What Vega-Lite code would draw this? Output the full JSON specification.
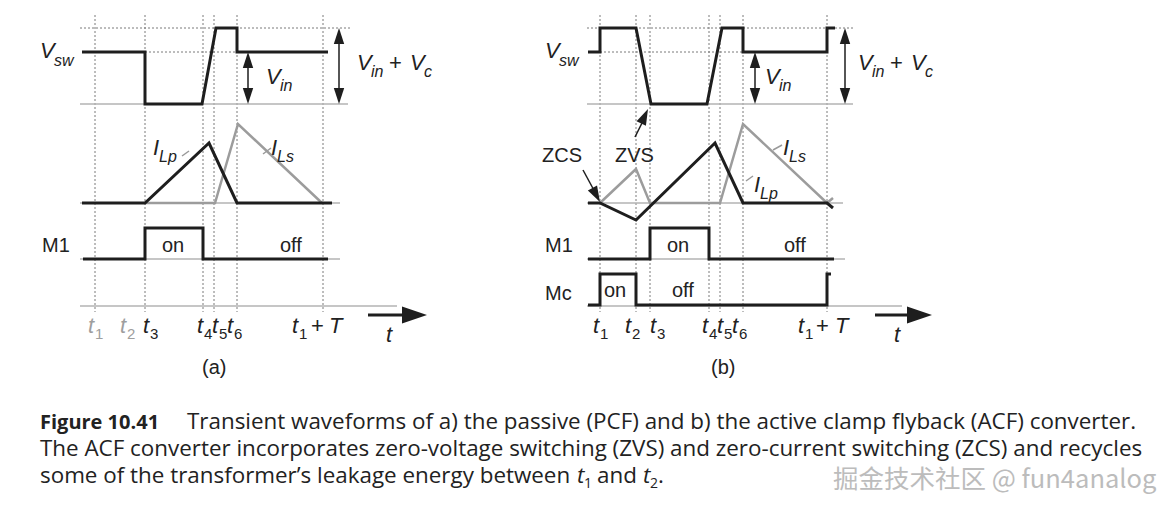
{
  "$schema": "https://vega.github.io/schema/vega-lite/v6.json",
  "width": 1170,
  "height": 507,
  "padding": 0,
  "autosize": {"type": "none"},
  "background": "white",
  "config": {"view": {"stroke": null}},
  "datasets": {
    "segs": [
      {"k": "dot", "x": 95, "y": 15, "x2": 95, "y2": 312},
      {"k": "dot", "x": 145, "y": 15, "x2": 145, "y2": 312},
      {"k": "dot", "x": 203, "y": 15, "x2": 203, "y2": 312},
      {"k": "dot", "x": 214, "y": 15, "x2": 214, "y2": 312},
      {"k": "dot", "x": 237, "y": 15, "x2": 237, "y2": 312},
      {"k": "dot", "x": 323, "y": 15, "x2": 323, "y2": 312},
      {"k": "dot", "x": 600, "y": 15, "x2": 600, "y2": 312},
      {"k": "dot", "x": 636, "y": 15, "x2": 636, "y2": 312},
      {"k": "dot", "x": 650, "y": 15, "x2": 650, "y2": 312},
      {"k": "dot", "x": 709, "y": 15, "x2": 709, "y2": 312},
      {"k": "dot", "x": 720, "y": 15, "x2": 720, "y2": 312},
      {"k": "dot", "x": 743, "y": 15, "x2": 743, "y2": 312},
      {"k": "dot", "x": 827, "y": 15, "x2": 827, "y2": 312},
      {"k": "dot", "x": 80, "y": 28, "x2": 350, "y2": 28},
      {"k": "dot", "x": 145, "y": 52, "x2": 238, "y2": 52},
      {"k": "dot", "x": 587, "y": 28, "x2": 853, "y2": 28},
      {"k": "dot", "x": 600, "y": 52, "x2": 743, "y2": 52},
      {"k": "gray", "x": 80, "y": 104, "x2": 348, "y2": 104},
      {"k": "gray", "x": 80, "y": 203, "x2": 340, "y2": 203},
      {"k": "gray", "x": 80, "y": 259, "x2": 340, "y2": 259},
      {"k": "gray", "x": 80, "y": 306, "x2": 397, "y2": 306},
      {"k": "gray", "x": 587, "y": 104, "x2": 853, "y2": 104},
      {"k": "gray", "x": 587, "y": 203, "x2": 843, "y2": 203},
      {"k": "gray", "x": 587, "y": 259, "x2": 845, "y2": 259},
      {"k": "gray", "x": 587, "y": 306, "x2": 902, "y2": 306},
      {"k": "blk", "x": 248, "y": 58, "x2": 248, "y2": 98},
      {"k": "blk", "x": 339, "y": 34, "x2": 339, "y2": 98},
      {"k": "blk", "x": 755, "y": 58, "x2": 755, "y2": 98},
      {"k": "blk", "x": 845, "y": 34, "x2": 845, "y2": 98},
      {"k": "blk", "x": 635, "y": 137, "x2": 645, "y2": 117},
      {"k": "blk", "x": 583, "y": 170, "x2": 596, "y2": 194},
      {"k": "blk3", "x": 368, "y": 315, "x2": 404, "y2": 315},
      {"k": "blk3", "x": 875, "y": 315, "x2": 909, "y2": 315},
      {"k": "lead", "x": 182, "y": 156, "x2": 189, "y2": 151},
      {"k": "lead", "x": 263, "y": 154, "x2": 271, "y2": 148},
      {"k": "lead", "x": 773, "y": 150, "x2": 782, "y2": 145},
      {"k": "lead", "x": 746, "y": 181, "x2": 753, "y2": 176}
    ],
    "paths": [
      {"id": "a_ils", "c": "g", "i": 0, "x": 145, "y": 203},
      {"id": "a_ils", "c": "g", "i": 1, "x": 215, "y": 203},
      {"id": "a_ils", "c": "g", "i": 2, "x": 238, "y": 124},
      {"id": "a_ils", "c": "g", "i": 3, "x": 322, "y": 203},
      {"id": "b_ils", "c": "g", "i": 0, "x": 600, "y": 203},
      {"id": "b_ils", "c": "g", "i": 1, "x": 636, "y": 169},
      {"id": "b_ils", "c": "g", "i": 2, "x": 650, "y": 203},
      {"id": "b_ils", "c": "g", "i": 3, "x": 720, "y": 203},
      {"id": "b_ils", "c": "g", "i": 4, "x": 743, "y": 124},
      {"id": "b_ils", "c": "g", "i": 5, "x": 827, "y": 203},
      {"id": "b_ils", "c": "g", "i": 6, "x": 833, "y": 198},
      {"id": "a_vsw", "c": "k", "i": 0, "x": 82, "y": 52},
      {"id": "a_vsw", "c": "k", "i": 1, "x": 145, "y": 52},
      {"id": "a_vsw", "c": "k", "i": 2, "x": 145, "y": 104},
      {"id": "a_vsw", "c": "k", "i": 3, "x": 202, "y": 104},
      {"id": "a_vsw", "c": "k", "i": 4, "x": 216, "y": 28},
      {"id": "a_vsw", "c": "k", "i": 5, "x": 237, "y": 28},
      {"id": "a_vsw", "c": "k", "i": 6, "x": 237, "y": 52},
      {"id": "a_vsw", "c": "k", "i": 7, "x": 328, "y": 52},
      {"id": "a_ilp", "c": "k", "i": 0, "x": 82, "y": 203},
      {"id": "a_ilp", "c": "k", "i": 1, "x": 145, "y": 203},
      {"id": "a_ilp", "c": "k", "i": 2, "x": 209, "y": 143},
      {"id": "a_ilp", "c": "k", "i": 3, "x": 237, "y": 203},
      {"id": "a_ilp", "c": "k", "i": 4, "x": 332, "y": 203},
      {"id": "a_m1", "c": "k", "i": 0, "x": 83, "y": 259},
      {"id": "a_m1", "c": "k", "i": 1, "x": 145, "y": 259},
      {"id": "a_m1", "c": "k", "i": 2, "x": 145, "y": 228},
      {"id": "a_m1", "c": "k", "i": 3, "x": 203, "y": 228},
      {"id": "a_m1", "c": "k", "i": 4, "x": 203, "y": 259},
      {"id": "a_m1", "c": "k", "i": 5, "x": 328, "y": 259},
      {"id": "b_vsw", "c": "k", "i": 0, "x": 588, "y": 52},
      {"id": "b_vsw", "c": "k", "i": 1, "x": 600, "y": 52},
      {"id": "b_vsw", "c": "k", "i": 2, "x": 600, "y": 28},
      {"id": "b_vsw", "c": "k", "i": 3, "x": 636, "y": 28},
      {"id": "b_vsw", "c": "k", "i": 4, "x": 651, "y": 104},
      {"id": "b_vsw", "c": "k", "i": 5, "x": 707, "y": 104},
      {"id": "b_vsw", "c": "k", "i": 6, "x": 722, "y": 28},
      {"id": "b_vsw", "c": "k", "i": 7, "x": 743, "y": 28},
      {"id": "b_vsw", "c": "k", "i": 8, "x": 743, "y": 52},
      {"id": "b_vsw", "c": "k", "i": 9, "x": 827, "y": 52},
      {"id": "b_vsw", "c": "k", "i": 10, "x": 827, "y": 28},
      {"id": "b_vsw", "c": "k", "i": 11, "x": 835, "y": 28},
      {"id": "b_ilp", "c": "k", "i": 0, "x": 588, "y": 203},
      {"id": "b_ilp", "c": "k", "i": 1, "x": 600, "y": 203},
      {"id": "b_ilp", "c": "k", "i": 2, "x": 636, "y": 220},
      {"id": "b_ilp", "c": "k", "i": 3, "x": 715, "y": 143},
      {"id": "b_ilp", "c": "k", "i": 4, "x": 743, "y": 203},
      {"id": "b_ilp", "c": "k", "i": 5, "x": 827, "y": 203},
      {"id": "b_ilp", "c": "k", "i": 6, "x": 833, "y": 208},
      {"id": "b_m1", "c": "k", "i": 0, "x": 588, "y": 259},
      {"id": "b_m1", "c": "k", "i": 1, "x": 650, "y": 259},
      {"id": "b_m1", "c": "k", "i": 2, "x": 650, "y": 228},
      {"id": "b_m1", "c": "k", "i": 3, "x": 709, "y": 228},
      {"id": "b_m1", "c": "k", "i": 4, "x": 709, "y": 259},
      {"id": "b_m1", "c": "k", "i": 5, "x": 834, "y": 259},
      {"id": "b_mc", "c": "k", "i": 0, "x": 588, "y": 305},
      {"id": "b_mc", "c": "k", "i": 1, "x": 600, "y": 305},
      {"id": "b_mc", "c": "k", "i": 2, "x": 600, "y": 274},
      {"id": "b_mc", "c": "k", "i": 3, "x": 636, "y": 274},
      {"id": "b_mc", "c": "k", "i": 4, "x": 636, "y": 305},
      {"id": "b_mc", "c": "k", "i": 5, "x": 827, "y": 305},
      {"id": "b_mc", "c": "k", "i": 6, "x": 827, "y": 274},
      {"id": "b_mc", "c": "k", "i": 7, "x": 831, "y": 274}
    ],
    "heads": [
      {"s": "sm", "x": 248, "y": 60, "a": 0},
      {"s": "sm", "x": 248, "y": 96, "a": 180},
      {"s": "sm", "x": 339, "y": 36, "a": 0},
      {"s": "sm", "x": 339, "y": 96, "a": 180},
      {"s": "sm", "x": 755, "y": 60, "a": 0},
      {"s": "sm", "x": 755, "y": 96, "a": 180},
      {"s": "sm", "x": 845, "y": 36, "a": 0},
      {"s": "sm", "x": 845, "y": 96, "a": 180},
      {"s": "sm", "x": 644.6, "y": 116.2, "a": 25},
      {"s": "sm", "x": 596.2, "y": 195, "a": 152},
      {"s": "big", "x": 414.5, "y": 315, "a": 90},
      {"s": "big", "x": 919.5, "y": 315, "a": 90}
    ],
    "texts": [
      {"r": "it", "c": "d", "x": 40, "y": 58, "t": "V"},
      {"r": "its", "c": "d", "x": 54, "y": 66, "t": "sw"},
      {"r": "it", "c": "d", "x": 266, "y": 84, "t": "V"},
      {"r": "its", "c": "d", "x": 280, "y": 91, "t": "in"},
      {"r": "it", "c": "d", "x": 357, "y": 70, "t": "V"},
      {"r": "its", "c": "d", "x": 371, "y": 77, "t": "in"},
      {"r": "pl", "c": "d", "x": 389, "y": 70, "t": "+"},
      {"r": "it", "c": "d", "x": 410, "y": 70, "t": "V"},
      {"r": "its", "c": "d", "x": 424, "y": 77, "t": "c"},
      {"r": "it", "c": "d", "x": 153, "y": 155, "t": "I"},
      {"r": "its", "c": "d", "x": 159, "y": 162, "t": "Lp"},
      {"r": "it", "c": "d", "x": 271, "y": 155, "t": "I"},
      {"r": "its", "c": "d", "x": 277, "y": 162, "t": "Ls"},
      {"r": "up", "c": "d", "x": 42, "y": 252, "t": "M1"},
      {"r": "up", "c": "d", "x": 162, "y": 252, "t": "on"},
      {"r": "up", "c": "d", "x": 280, "y": 252, "t": "off"},
      {"r": "it", "c": "l", "x": 88, "y": 333, "t": "t"},
      {"r": "sub", "c": "l", "x": 95, "y": 339, "t": "1"},
      {"r": "it", "c": "l", "x": 120, "y": 333, "t": "t"},
      {"r": "sub", "c": "l", "x": 127, "y": 339, "t": "2"},
      {"r": "it", "c": "d", "x": 143, "y": 333, "t": "t"},
      {"r": "sub", "c": "d", "x": 150, "y": 339, "t": "3"},
      {"r": "it", "c": "d", "x": 197, "y": 333, "t": "t"},
      {"r": "sub", "c": "d", "x": 204, "y": 339, "t": "4"},
      {"r": "it", "c": "d", "x": 212, "y": 333, "t": "t"},
      {"r": "sub", "c": "d", "x": 219, "y": 339, "t": "5"},
      {"r": "it", "c": "d", "x": 227, "y": 333, "t": "t"},
      {"r": "sub", "c": "d", "x": 234, "y": 339, "t": "6"},
      {"r": "it", "c": "d", "x": 292, "y": 333, "t": "t"},
      {"r": "sub", "c": "d", "x": 299, "y": 339, "t": "1"},
      {"r": "pl", "c": "d", "x": 311, "y": 333, "t": "+"},
      {"r": "it", "c": "d", "x": 329, "y": 333, "t": "T"},
      {"r": "it", "c": "d", "x": 386, "y": 342, "t": "t"},
      {"r": "up", "c": "d", "x": 202, "y": 374, "t": "(a)"},
      {"r": "it", "c": "d", "x": 545, "y": 58, "t": "V"},
      {"r": "its", "c": "d", "x": 559, "y": 66, "t": "sw"},
      {"r": "it", "c": "d", "x": 765, "y": 84, "t": "V"},
      {"r": "its", "c": "d", "x": 779, "y": 91, "t": "in"},
      {"r": "it", "c": "d", "x": 858, "y": 70, "t": "V"},
      {"r": "its", "c": "d", "x": 872, "y": 77, "t": "in"},
      {"r": "pl", "c": "d", "x": 890, "y": 70, "t": "+"},
      {"r": "it", "c": "d", "x": 911, "y": 70, "t": "V"},
      {"r": "its", "c": "d", "x": 925, "y": 77, "t": "c"},
      {"r": "up", "c": "d", "x": 542, "y": 162, "t": "ZCS"},
      {"r": "up", "c": "d", "x": 615, "y": 162, "t": "ZVS"},
      {"r": "it", "c": "d", "x": 783, "y": 155, "t": "I"},
      {"r": "its", "c": "d", "x": 789, "y": 162, "t": "Ls"},
      {"r": "it", "c": "d", "x": 754, "y": 192, "t": "I"},
      {"r": "its", "c": "d", "x": 760, "y": 199, "t": "Lp"},
      {"r": "up", "c": "d", "x": 545, "y": 252, "t": "M1"},
      {"r": "up", "c": "d", "x": 667, "y": 252, "t": "on"},
      {"r": "up", "c": "d", "x": 784, "y": 252, "t": "off"},
      {"r": "up", "c": "d", "x": 545, "y": 300, "t": "Mc"},
      {"r": "up", "c": "d", "x": 604, "y": 297, "t": "on"},
      {"r": "up", "c": "d", "x": 672, "y": 297, "t": "off"},
      {"r": "it", "c": "d", "x": 593, "y": 333, "t": "t"},
      {"r": "sub", "c": "d", "x": 600, "y": 339, "t": "1"},
      {"r": "it", "c": "d", "x": 625, "y": 333, "t": "t"},
      {"r": "sub", "c": "d", "x": 632, "y": 339, "t": "2"},
      {"r": "it", "c": "d", "x": 650, "y": 333, "t": "t"},
      {"r": "sub", "c": "d", "x": 657, "y": 339, "t": "3"},
      {"r": "it", "c": "d", "x": 702, "y": 333, "t": "t"},
      {"r": "sub", "c": "d", "x": 709, "y": 339, "t": "4"},
      {"r": "it", "c": "d", "x": 717, "y": 333, "t": "t"},
      {"r": "sub", "c": "d", "x": 724, "y": 339, "t": "5"},
      {"r": "it", "c": "d", "x": 732, "y": 333, "t": "t"},
      {"r": "sub", "c": "d", "x": 739, "y": 339, "t": "6"},
      {"r": "it", "c": "d", "x": 798, "y": 333, "t": "t"},
      {"r": "sub", "c": "d", "x": 805, "y": 339, "t": "1"},
      {"r": "pl", "c": "d", "x": 816, "y": 333, "t": "+"},
      {"r": "it", "c": "d", "x": 835, "y": 333, "t": "T"},
      {"r": "it", "c": "d", "x": 894, "y": 342, "t": "t"},
      {"r": "up", "c": "d", "x": 711, "y": 374, "t": "(b)"},
      {"r": "capb", "c": "d", "x": 40, "y": 429, "t": "Figure 10.41"},
      {"r": "cap", "c": "d", "x": 187, "y": 429, "t": "Transient waveforms of a) the passive (PCF) and b) the active clamp flyback (ACF) converter."},
      {"r": "cap", "c": "d", "x": 40, "y": 456, "t": "The ACF converter incorporates zero-voltage switching (ZVS) and zero-current switching (ZCS) and recycles"},
      {"r": "cap", "c": "d", "x": 40, "y": 483, "t": "some of the transformer’s leakage energy between"},
      {"r": "capi", "c": "d", "x": 577, "y": 483, "t": "t"},
      {"r": "caps", "c": "d", "x": 584, "y": 488, "t": "1"},
      {"r": "cap", "c": "d", "x": 597, "y": 483, "t": "and"},
      {"r": "capi", "c": "d", "x": 643, "y": 483, "t": "t"},
      {"r": "caps", "c": "d", "x": 650, "y": 488, "t": "2"},
      {"r": "cap", "c": "d", "x": 658, "y": 483, "t": "."},
      {"r": "wm", "c": "w", "x": 833, "y": 488, "t": "掘金技术社区 @ fun4analog"}
    ]
  },
  "layer": [
    {
      "data": {"name": "segs"},
      "transform": [{"filter": "datum.k == 'dot'"}],
      "mark": {"type": "rule", "color": "#7a7a7a", "strokeWidth": 1, "strokeDash": [2, 2]},
      "encoding": {
        "x": {"field": "x", "type": "quantitative", "scale": {"domain": [0, 1170], "nice": false, "zero": false}, "axis": null},
        "y": {"field": "y", "type": "quantitative", "scale": {"domain": [507, 0], "nice": false, "zero": false}, "axis": null},
        "x2": {"field": "x2"},
        "y2": {"field": "y2"}
      }
    },
    {
      "data": {"name": "segs"},
      "transform": [{"filter": "datum.k == 'gray'"}],
      "mark": {"type": "rule", "color": "#b3b3b3", "strokeWidth": 1.5},
      "encoding": {
        "x": {"field": "x", "type": "quantitative", "scale": {"domain": [0, 1170], "nice": false, "zero": false}, "axis": null},
        "y": {"field": "y", "type": "quantitative", "scale": {"domain": [507, 0], "nice": false, "zero": false}, "axis": null},
        "x2": {"field": "x2"},
        "y2": {"field": "y2"}
      }
    },
    {
      "data": {"name": "segs"},
      "transform": [{"filter": "datum.k == 'lead'"}],
      "mark": {"type": "rule", "color": "#999999", "strokeWidth": 1.5},
      "encoding": {
        "x": {"field": "x", "type": "quantitative", "scale": {"domain": [0, 1170], "nice": false, "zero": false}, "axis": null},
        "y": {"field": "y", "type": "quantitative", "scale": {"domain": [507, 0], "nice": false, "zero": false}, "axis": null},
        "x2": {"field": "x2"},
        "y2": {"field": "y2"}
      }
    },
    {
      "data": {"name": "paths"},
      "transform": [{"filter": "datum.c == 'g'"}],
      "mark": {"type": "line", "color": "#9c9c9c", "strokeWidth": 2.5},
      "encoding": {
        "x": {"field": "x", "type": "quantitative", "scale": {"domain": [0, 1170], "nice": false, "zero": false}, "axis": null},
        "y": {"field": "y", "type": "quantitative", "scale": {"domain": [507, 0], "nice": false, "zero": false}, "axis": null},
        "detail": {"field": "id"},
        "order": {"field": "i", "type": "quantitative"}
      }
    },
    {
      "data": {"name": "paths"},
      "transform": [{"filter": "datum.c == 'k'"}],
      "mark": {"type": "line", "color": "#1e1e1e", "strokeWidth": 3},
      "encoding": {
        "x": {"field": "x", "type": "quantitative", "scale": {"domain": [0, 1170], "nice": false, "zero": false}, "axis": null},
        "y": {"field": "y", "type": "quantitative", "scale": {"domain": [507, 0], "nice": false, "zero": false}, "axis": null},
        "detail": {"field": "id"},
        "order": {"field": "i", "type": "quantitative"}
      }
    },
    {
      "data": {"name": "segs"},
      "transform": [{"filter": "datum.k == 'blk'"}],
      "mark": {"type": "rule", "color": "#1e1e1e", "strokeWidth": 1.5},
      "encoding": {
        "x": {"field": "x", "type": "quantitative", "scale": {"domain": [0, 1170], "nice": false, "zero": false}, "axis": null},
        "y": {"field": "y", "type": "quantitative", "scale": {"domain": [507, 0], "nice": false, "zero": false}, "axis": null},
        "x2": {"field": "x2"},
        "y2": {"field": "y2"}
      }
    },
    {
      "data": {"name": "segs"},
      "transform": [{"filter": "datum.k == 'blk3'"}],
      "mark": {"type": "rule", "color": "#1e1e1e", "strokeWidth": 3},
      "encoding": {
        "x": {"field": "x", "type": "quantitative", "scale": {"domain": [0, 1170], "nice": false, "zero": false}, "axis": null},
        "y": {"field": "y", "type": "quantitative", "scale": {"domain": [507, 0], "nice": false, "zero": false}, "axis": null},
        "x2": {"field": "x2"},
        "y2": {"field": "y2"}
      }
    },
    {
      "data": {"name": "heads"},
      "transform": [{"filter": "datum.s == 'sm'"}],
      "mark": {"type": "point", "filled": true, "shape": "M0,-1L0.65,1L-0.65,1Z", "size": 256, "color": "#1e1e1e", "opacity": 1},
      "encoding": {
        "x": {"field": "x", "type": "quantitative", "scale": {"domain": [0, 1170], "nice": false, "zero": false}, "axis": null},
        "y": {"field": "y", "type": "quantitative", "scale": {"domain": [507, 0], "nice": false, "zero": false}, "axis": null},
        "angle": {"field": "a", "type": "quantitative", "scale": null}
      }
    },
    {
      "data": {"name": "heads"},
      "transform": [{"filter": "datum.s == 'big'"}],
      "mark": {"type": "point", "filled": true, "shape": "M0,-1L0.68,1L-0.68,1Z", "size": 625, "color": "#1e1e1e", "opacity": 1},
      "encoding": {
        "x": {"field": "x", "type": "quantitative", "scale": {"domain": [0, 1170], "nice": false, "zero": false}, "axis": null},
        "y": {"field": "y", "type": "quantitative", "scale": {"domain": [507, 0], "nice": false, "zero": false}, "axis": null},
        "angle": {"field": "a", "type": "quantitative", "scale": null}
      }
    },
    {
      "data": {"name": "texts"},
      "transform": [{"filter": "datum.r == 'it'"}],
      "mark": {"type": "text", "align": "left", "baseline": "alphabetic", "font": "Liberation Sans", "fontStyle": "italic", "fontSize": 22},
      "encoding": {
        "x": {"field": "x", "type": "quantitative", "scale": {"domain": [0, 1170], "nice": false, "zero": false}, "axis": null},
        "y": {"field": "y", "type": "quantitative", "scale": {"domain": [507, 0], "nice": false, "zero": false}, "axis": null},
        "text": {"field": "t"},
        "color": {"field": "c", "type": "nominal", "scale": {"domain": ["d", "l", "w"], "range": ["#222222", "#9e9e9e", "#bcbcbc"]}, "legend": null}
      }
    },
    {
      "data": {"name": "texts"},
      "transform": [{"filter": "datum.r == 'its'"}],
      "mark": {"type": "text", "align": "left", "baseline": "alphabetic", "font": "Liberation Sans", "fontStyle": "italic", "fontSize": 16},
      "encoding": {
        "x": {"field": "x", "type": "quantitative", "scale": {"domain": [0, 1170], "nice": false, "zero": false}, "axis": null},
        "y": {"field": "y", "type": "quantitative", "scale": {"domain": [507, 0], "nice": false, "zero": false}, "axis": null},
        "text": {"field": "t"},
        "color": {"field": "c", "type": "nominal", "scale": {"domain": ["d", "l", "w"], "range": ["#222222", "#9e9e9e", "#bcbcbc"]}, "legend": null}
      }
    },
    {
      "data": {"name": "texts"},
      "transform": [{"filter": "datum.r == 'up'"}],
      "mark": {"type": "text", "align": "left", "baseline": "alphabetic", "font": "Liberation Sans", "fontSize": 20},
      "encoding": {
        "x": {"field": "x", "type": "quantitative", "scale": {"domain": [0, 1170], "nice": false, "zero": false}, "axis": null},
        "y": {"field": "y", "type": "quantitative", "scale": {"domain": [507, 0], "nice": false, "zero": false}, "axis": null},
        "text": {"field": "t"},
        "color": {"field": "c", "type": "nominal", "scale": {"domain": ["d", "l", "w"], "range": ["#222222", "#9e9e9e", "#bcbcbc"]}, "legend": null}
      }
    },
    {
      "data": {"name": "texts"},
      "transform": [{"filter": "datum.r == 'pl'"}],
      "mark": {"type": "text", "align": "left", "baseline": "alphabetic", "font": "Liberation Sans", "fontSize": 22},
      "encoding": {
        "x": {"field": "x", "type": "quantitative", "scale": {"domain": [0, 1170], "nice": false, "zero": false}, "axis": null},
        "y": {"field": "y", "type": "quantitative", "scale": {"domain": [507, 0], "nice": false, "zero": false}, "axis": null},
        "text": {"field": "t"},
        "color": {"field": "c", "type": "nominal", "scale": {"domain": ["d", "l", "w"], "range": ["#222222", "#9e9e9e", "#bcbcbc"]}, "legend": null}
      }
    },
    {
      "data": {"name": "texts"},
      "transform": [{"filter": "datum.r == 'sub'"}],
      "mark": {"type": "text", "align": "left", "baseline": "alphabetic", "font": "Liberation Sans", "fontSize": 15},
      "encoding": {
        "x": {"field": "x", "type": "quantitative", "scale": {"domain": [0, 1170], "nice": false, "zero": false}, "axis": null},
        "y": {"field": "y", "type": "quantitative", "scale": {"domain": [507, 0], "nice": false, "zero": false}, "axis": null},
        "text": {"field": "t"},
        "color": {"field": "c", "type": "nominal", "scale": {"domain": ["d", "l", "w"], "range": ["#222222", "#9e9e9e", "#bcbcbc"]}, "legend": null}
      }
    },
    {
      "data": {"name": "texts"},
      "transform": [{"filter": "datum.r == 'cap'"}],
      "mark": {"type": "text", "align": "left", "baseline": "alphabetic", "font": "Open Sans", "fontSize": 22.4},
      "encoding": {
        "x": {"field": "x", "type": "quantitative", "scale": {"domain": [0, 1170], "nice": false, "zero": false}, "axis": null},
        "y": {"field": "y", "type": "quantitative", "scale": {"domain": [507, 0], "nice": false, "zero": false}, "axis": null},
        "text": {"field": "t"},
        "color": {"field": "c", "type": "nominal", "scale": {"domain": ["d", "l", "w"], "range": ["#222222", "#9e9e9e", "#bcbcbc"]}, "legend": null}
      }
    },
    {
      "data": {"name": "texts"},
      "transform": [{"filter": "datum.r == 'capb'"}],
      "mark": {"type": "text", "align": "left", "baseline": "alphabetic", "font": "Open Sans", "fontWeight": "bold", "fontSize": 20},
      "encoding": {
        "x": {"field": "x", "type": "quantitative", "scale": {"domain": [0, 1170], "nice": false, "zero": false}, "axis": null},
        "y": {"field": "y", "type": "quantitative", "scale": {"domain": [507, 0], "nice": false, "zero": false}, "axis": null},
        "text": {"field": "t"},
        "color": {"field": "c", "type": "nominal", "scale": {"domain": ["d", "l", "w"], "range": ["#222222", "#9e9e9e", "#bcbcbc"]}, "legend": null}
      }
    },
    {
      "data": {"name": "texts"},
      "transform": [{"filter": "datum.r == 'capi'"}],
      "mark": {"type": "text", "align": "left", "baseline": "alphabetic", "font": "Open Sans", "fontStyle": "italic", "fontSize": 22.4},
      "encoding": {
        "x": {"field": "x", "type": "quantitative", "scale": {"domain": [0, 1170], "nice": false, "zero": false}, "axis": null},
        "y": {"field": "y", "type": "quantitative", "scale": {"domain": [507, 0], "nice": false, "zero": false}, "axis": null},
        "text": {"field": "t"},
        "color": {"field": "c", "type": "nominal", "scale": {"domain": ["d", "l", "w"], "range": ["#222222", "#9e9e9e", "#bcbcbc"]}, "legend": null}
      }
    },
    {
      "data": {"name": "texts"},
      "transform": [{"filter": "datum.r == 'caps'"}],
      "mark": {"type": "text", "align": "left", "baseline": "alphabetic", "font": "Open Sans", "fontSize": 14},
      "encoding": {
        "x": {"field": "x", "type": "quantitative", "scale": {"domain": [0, 1170], "nice": false, "zero": false}, "axis": null},
        "y": {"field": "y", "type": "quantitative", "scale": {"domain": [507, 0], "nice": false, "zero": false}, "axis": null},
        "text": {"field": "t"},
        "color": {"field": "c", "type": "nominal", "scale": {"domain": ["d", "l", "w"], "range": ["#222222", "#9e9e9e", "#bcbcbc"]}, "legend": null}
      }
    },
    {
      "data": {"name": "texts"},
      "transform": [{"filter": "datum.r == 'wm'"}],
      "mark": {"type": "text", "align": "left", "baseline": "alphabetic", "font": "Noto Sans CJK SC", "fontSize": 25.5},
      "encoding": {
        "x": {"field": "x", "type": "quantitative", "scale": {"domain": [0, 1170], "nice": false, "zero": false}, "axis": null},
        "y": {"field": "y", "type": "quantitative", "scale": {"domain": [507, 0], "nice": false, "zero": false}, "axis": null},
        "text": {"field": "t"},
        "color": {"field": "c", "type": "nominal", "scale": {"domain": ["d", "l", "w"], "range": ["#222222", "#9e9e9e", "#bcbcbc"]}, "legend": null}
      }
    }
  ]
}
